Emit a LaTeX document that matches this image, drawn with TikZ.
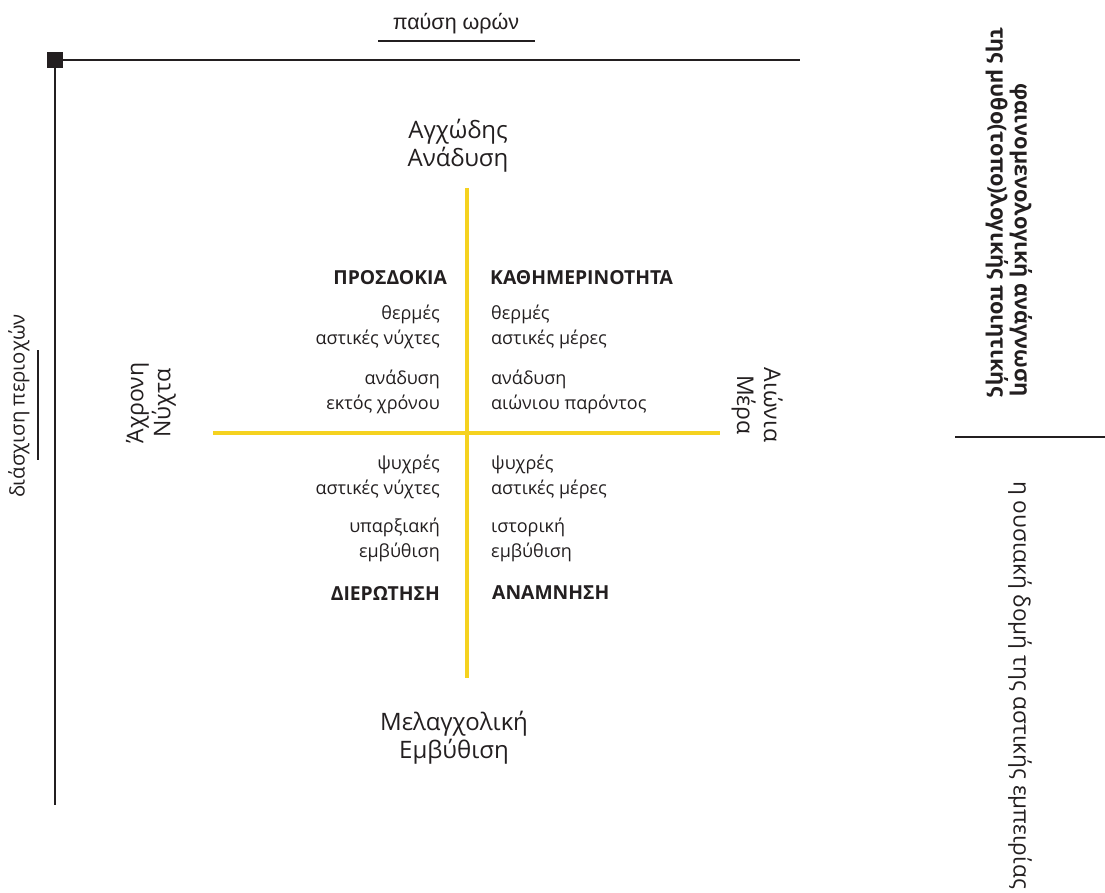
\documentclass[tikz,border=0pt]{standalone}
\usepackage{fontspec}
\setmainfont{Open Sans}
\newfontfamily\arialfont{Liberation Sans}
\definecolor{axisyellow}{HTML}{F5D21F}
\definecolor{inkgrey}{HTML}{231F20}
\begin{document}
\begin{tikzpicture}[x=1pt,y=-1pt,
  txt/.style={inner sep=0pt, text=inkgrey, font=\fontsize{18}{25}\selectfont},
  head/.style={inner sep=0pt, text=inkgrey, font=\fontsize{19.3}{25}\selectfont\bfseries},
  pole/.style={inner sep=0pt, text=inkgrey, align=center, font=\fontsize{24}{28}\selectfont},
  frame/.style={draw=inkgrey, line width=2.6pt},
  rule/.style={draw=inkgrey, line width=2pt},
  cross/.style={draw=axisyellow, line width=4pt}]
\useasboundingbox (0,0) rectangle (1105,893);

% outer frame: time axis (top) and space axis (left)
\coordinate (origin) at (55,60);
\coordinate (timeEnd) at (800,60);
\coordinate (spaceEnd) at (55,805);
\draw[frame] (origin) -- (timeEnd);
\draw[frame] (origin) -- (spaceEnd);
\fill[inkgrey] (47,52) rectangle (63,68);

% axis titles with their rules
\node[inner sep=0pt, text=inkgrey, font=\arialfont\fontsize{21.5}{24}\selectfont] (timeLbl) at (456,24) {παύση ωρών};
\coordinate (tuA) at (378,41);
\coordinate (tuB) at (535,41);
\draw[rule] (tuA) -- (tuB);

\node[inner sep=0pt, text=inkgrey, rotate=90, font=\fontsize{20.3}{24}\selectfont] (spaceLbl) at (19,406) {διάσχιση περιοχών};
\coordinate (suA) at (38,350);
\coordinate (suB) at (38,460);
\draw[rule] (suA) -- (suB);

% yellow cross
\coordinate (vTop) at (467,188);
\coordinate (vBot) at (467,678);
\coordinate (hLeft) at (213,433);
\coordinate (hRight) at (720,433);
\draw[cross] (vTop) -- (vBot);
\draw[cross] (hLeft) -- (hRight);

% poles of the cross
\node[pole] (north) at (458,146) {Αγχώδης\\Ανάδυση};
\node[pole] (south) at (454,738) {Μελαγχολική\\Εμβύθιση};
\node[pole, rotate=90, font=\fontsize{23}{27}\selectfont] (west) at (151,403) {Άχρονη\\Νύχτα};
\node[pole, rotate=-90, font=\fontsize{23}{27}\selectfont] (east) at (757,405) {Αιώνια\\Μέρα};

% upper-left quadrant
\node[head, anchor=east] (nwHead) at (447,278) {ΠΡΟΣΔΟΚΙΑ};
\node[txt, anchor=east, align=right] (nwA) at (440,327) {θερμές\hspace{3pt}\\αστικές νύχτες};
\node[txt, anchor=east, align=right] (nwB) at (440,392) {ανάδυση\\εκτός χρόνου};

% upper-right quadrant
\node[head, anchor=west] (neHead) at (490,278) {ΚΑΘΗΜΕΡΙΝΟΤΗΤΑ};
\node[txt, anchor=west, align=left] (neA) at (491,327) {θερμές\\αστικές μέρες};
\node[txt, anchor=west, align=left] (neB) at (491,392) {ανάδυση\\αιώνιου παρόντος};

% lower-left quadrant
\node[txt, anchor=east, align=right] (swA) at (440,477) {ψυχρές\hspace{3pt}\\αστικές νύχτες};
\node[txt, anchor=east, align=right] (swB) at (440,540) {υπαρξιακή\\εμβύθιση};
\node[head, anchor=east] (swHead) at (440,593) {ΔΙΕΡΩΤΗΣΗ};

% lower-right quadrant
\node[txt, anchor=west, align=left] (seA) at (491,477) {ψυχρές\\αστικές μέρες};
\node[txt, anchor=west, align=left] (seB) at (491,540) {ιστορική\\εμβύθιση};
\node[head, anchor=west] (seHead) at (492,593) {ΑΝΑΜΝΗΣΗ};

% right margin: reading levels
\node[inner sep=0pt, text=inkgrey, rotate=-90, align=right, font=\fontsize{21.7}{24}\selectfont\bfseries] (upperLevel) at (1009,212) {φαινομενολογική ανάγνωση\\της μυθο(τοπο)λογικής ποιητικής};
\coordinate (lvA) at (955,437);
\coordinate (lvB) at (1105,437);
\draw[rule] (lvA) -- (lvB);
\node[inner sep=0pt, text=inkgrey, rotate=-90, font=\fontsize{22.6}{26}\selectfont] (lowerLevel) at (1020,685) {η ουσιακή δομή της αστικής εμπειρίας};
\end{tikzpicture}
\end{document}
